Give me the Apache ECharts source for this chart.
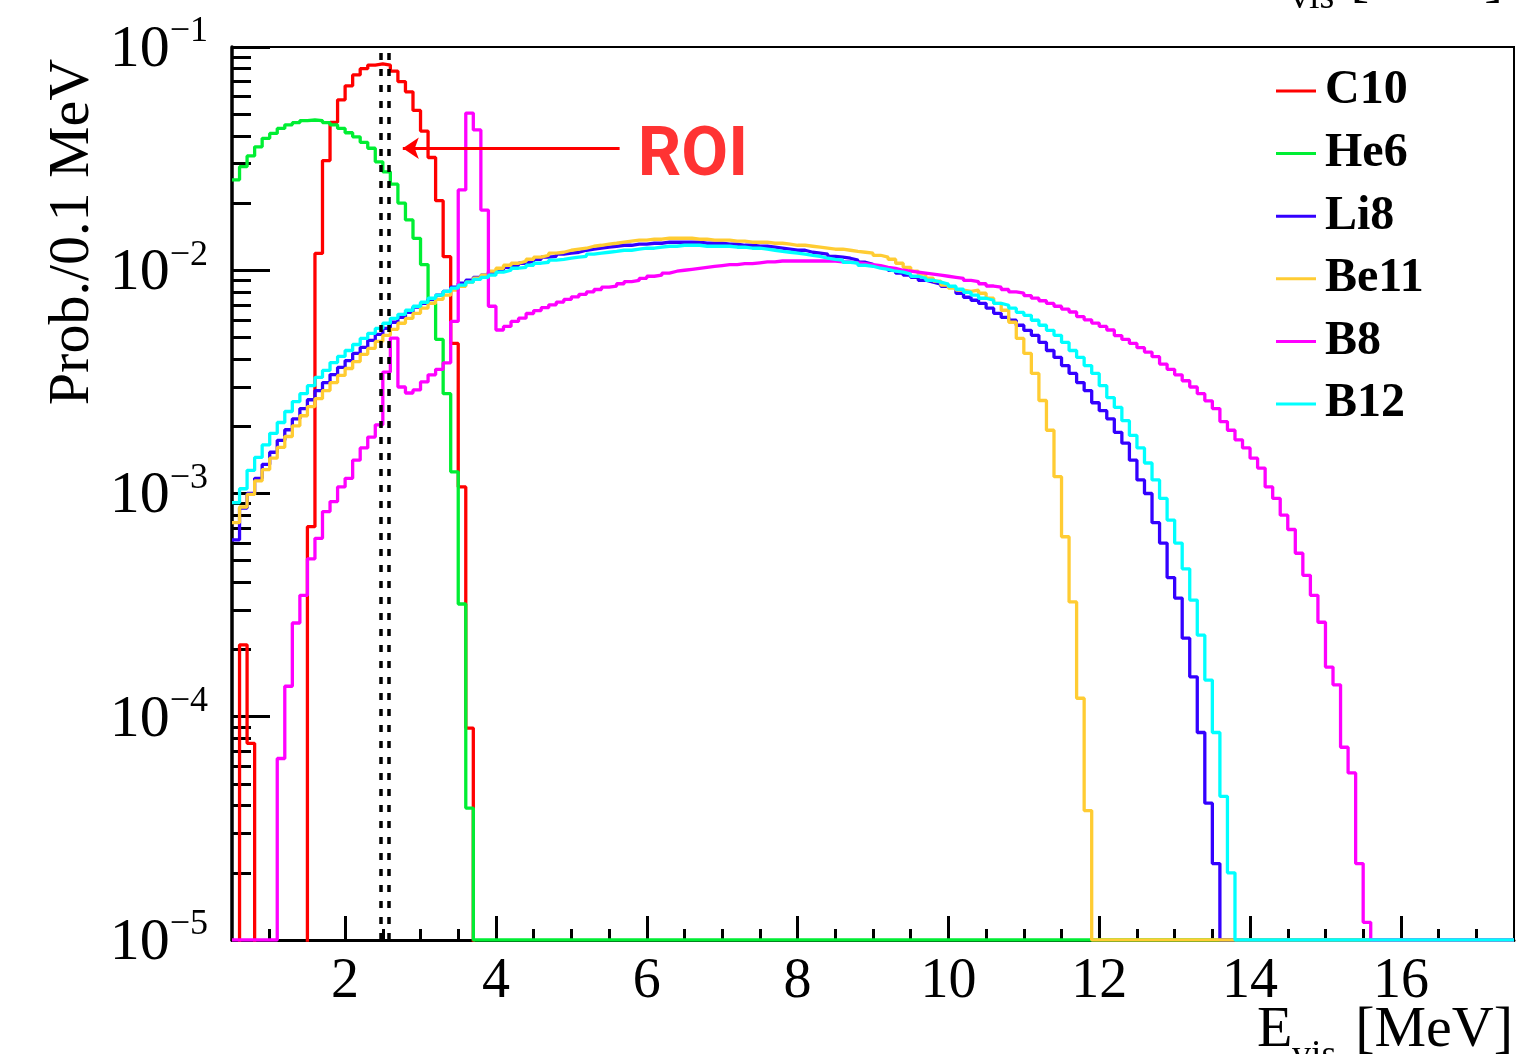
<!DOCTYPE html>
<html>
<head>
<meta charset="utf-8">
<script src="https://cdn.jsdelivr.net/npm/echarts@6.0.0/dist/echarts.min.js"></script>
<style>
html,body{margin:0;padding:0;background:#fff;}
#chart{width:1533px;height:1054px;}
</style>
</head>
<body>
<div id="chart"></div>
<script>
// ---------------- data (bin width 0.1 MeV, value = content of bin starting at E) ----------------
const E_MIN = 0.5, E_MAX = 17.5, BIN = 0.1;
const seriesNames = ['C10', 'He6', 'Li8', 'Be11', 'B8', 'B12'];
const seriesColors = ['#ff0000', '#00ee33', '#3300ff', '#ffcc33', '#ff00ff', '#00ffff'];

const c10Start = 0.5;
const c10 = [
  0, 2.1e-4, 7.6e-5, 0, 0, 0, 0, 0, 0, 0,
  7.1e-4, 0.0119, 0.031, 0.046, 0.058, 0.067, 0.075, 0.080, 0.083, 0.084,
  0.083, 0.078, 0.070, 0.063, 0.052, 0.042, 0.032, 0.0205, 0.0115, 0.0047,
  0.00107, 8.9e-5
];

const he6Start = 0.5;
const he6 = [
  0.0254, 0.0291, 0.0325, 0.0357, 0.0390, 0.0410, 0.0432, 0.0448, 0.0458, 0.0468,
  0.0471, 0.0468, 0.0458, 0.0448, 0.0432, 0.0413, 0.0396, 0.0374, 0.0352, 0.0306,
  0.0276, 0.0243, 0.0200, 0.0168, 0.0139, 0.0106, 0.0071, 0.0049, 0.0028, 0.00125,
  3.2e-4, 3.9e-5
];

const li8Start = 0.5;
const li8 = [
  0.00062, 0.00086, 0.00100, 0.00117, 0.00135, 0.00153, 0.00173, 0.00193, 0.00216, 0.00240,
  0.00263, 0.00289, 0.00314, 0.00341, 0.00367, 0.00394, 0.00424, 0.00451, 0.00485, 0.00516,
  0.00549, 0.00585, 0.00615, 0.00648, 0.00683, 0.00711, 0.00741, 0.00773, 0.00805, 0.00839,
  0.00875, 0.00902, 0.00930, 0.00950, 0.00980, 0.01000, 0.01031, 0.01053, 0.01075, 0.01097,
  0.01120, 0.01144, 0.01155, 0.01180, 0.01192, 0.01204, 0.01229, 0.01242, 0.01255, 0.01268,
  0.01281, 0.01294, 0.01294, 0.01308, 0.01308, 0.01321, 0.01321, 0.01335, 0.01335, 0.01335,
  0.01335, 0.01335, 0.01321, 0.01321, 0.01321, 0.01308, 0.01308, 0.01294, 0.01294, 0.01281,
  0.01281, 0.01268, 0.01255, 0.01242, 0.01229, 0.01229, 0.01204, 0.01192, 0.01180, 0.01155,
  0.01144, 0.01132, 0.01109, 0.01086, 0.01064, 0.01042, 0.01021, 0.01000, 0.00970, 0.00950,
  0.00930, 0.00902, 0.00884, 0.00866, 0.00848, 0.00831, 0.00789, 0.00757, 0.00734, 0.00711,
  0.00676, 0.00641, 0.00615, 0.00597, 0.00567, 0.00538, 0.00511, 0.00475, 0.00437, 0.00407,
  0.00374, 0.00345, 0.00314, 0.00289, 0.00255, 0.00235, 0.00216, 0.00188, 0.00168, 0.00141,
  0.00115, 0.00100, 0.00074, 0.00060, 0.00042, 0.00034, 0.000225, 0.000151, 0.000085, 0.000041,
  0.000022
];

const be11Start = 0.5;
const be11 = [
  0.00074, 0.00087, 0.00099, 0.00114, 0.00128, 0.00144, 0.00161, 0.00180, 0.00201, 0.00223,
  0.00245, 0.00266, 0.00289, 0.00314, 0.00338, 0.00363, 0.00390, 0.00420, 0.00447, 0.00480,
  0.00511, 0.00544, 0.00579, 0.00609, 0.00641, 0.00676, 0.00711, 0.00741, 0.00773, 0.00814,
  0.00848, 0.00884, 0.00921, 0.00950, 0.00990, 0.01021, 0.01053, 0.01075, 0.01097, 0.01120,
  0.01144, 0.01167, 0.01192, 0.01204, 0.01229, 0.01242, 0.01255, 0.01281, 0.01294, 0.01308,
  0.01321, 0.01335, 0.01349, 0.01363, 0.01363, 0.01377, 0.01377, 0.01391, 0.01391, 0.01391,
  0.01391, 0.01377, 0.01377, 0.01363, 0.01363, 0.01363, 0.01349, 0.01349, 0.01335, 0.01335,
  0.01335, 0.01321, 0.01321, 0.01308, 0.01294, 0.01294, 0.01281, 0.01268, 0.01255, 0.01242,
  0.01242, 0.01229, 0.01216, 0.01204, 0.01192, 0.01167, 0.01144, 0.01120, 0.01075, 0.01031,
  0.00990, 0.00960, 0.00921, 0.00893, 0.00857, 0.00831, 0.00814, 0.00805, 0.00814, 0.00789,
  0.00749, 0.00711, 0.00662, 0.00585, 0.00495, 0.00424, 0.00345, 0.00261, 0.00192, 0.00119,
  0.00064, 0.000327, 0.000121, 0.000038
];

const b8Start = 1.1;
const b8 = [
  6.5e-5, 1.37e-4, 2.63e-4, 3.5e-4, 5.1e-4, 6.3e-4, 8.3e-4, 9.2e-4, 0.00107, 0.00117,
  0.00141, 0.00160, 0.00179, 0.00203, 0.00350, 0.00497, 0.00300, 0.00282, 0.00291, 0.00316,
  0.00340, 0.00360, 0.00385, 0.00590, 0.0229, 0.0506, 0.0425, 0.0186, 0.0069, 0.0054,
  0.0056, 0.0059, 0.0061, 0.0064, 0.0066, 0.0068, 0.0070, 0.0072, 0.0074, 0.0076,
  0.0078, 0.0080, 0.0082, 0.0084, 0.0085, 0.0087, 0.0089, 0.0090, 0.0092, 0.0094,
  0.0095, 0.0097, 0.0099, 0.0100, 0.0101, 0.0102, 0.0103, 0.0104, 0.0105, 0.0106,
  0.0106, 0.0107, 0.0107, 0.0108, 0.0109, 0.0109, 0.0110, 0.0110, 0.0110, 0.0110,
  0.0110, 0.0110, 0.0110, 0.0110, 0.0109, 0.0109, 0.0108, 0.0107, 0.0106, 0.0105,
  0.0103, 0.0102, 0.0100, 0.0099, 0.0098, 0.0097, 0.0096, 0.0095, 0.0094, 0.0093,
  0.0092, 0.0090, 0.0089, 0.0087, 0.0085, 0.0084, 0.0082, 0.0080, 0.0079, 0.0077,
  0.0075, 0.0073, 0.0071, 0.0069, 0.0067, 0.0065, 0.0062, 0.0060, 0.0058, 0.0056,
  0.0054, 0.0051, 0.0049, 0.0047, 0.0045, 0.0043, 0.0041, 0.0038, 0.0036, 0.0034,
  0.0032, 0.0030, 0.0028, 0.0026, 0.0024, 0.0021, 0.00192, 0.00174, 0.00160, 0.00144,
  0.00130, 0.00107, 0.00095, 0.00080, 0.00069, 0.00054, 0.00043, 0.00035, 0.000265, 0.000167,
  0.000139, 0.000073, 0.000056, 0.000022, 0.000012
];

const b12Start = 0.5;
const b12 = [
  0.00091, 0.00105, 0.00127, 0.00145, 0.00165, 0.00186, 0.00208, 0.00233, 0.00258, 0.00280,
  0.00304, 0.00331, 0.00356, 0.00386, 0.00411, 0.00437, 0.00465, 0.00495, 0.00522, 0.00549,
  0.00579, 0.00609, 0.00635, 0.00662, 0.00690, 0.00719, 0.00749, 0.00773, 0.00805, 0.00831,
  0.00857, 0.00884, 0.00911, 0.00930, 0.00950, 0.00980, 0.01000, 0.01021, 0.01031, 0.01053,
  0.01075, 0.01086, 0.01109, 0.01120, 0.01132, 0.01144, 0.01155, 0.01180, 0.01192, 0.01204,
  0.01216, 0.01229, 0.01229, 0.01242, 0.01255, 0.01255, 0.01268, 0.01281, 0.01281, 0.01294,
  0.01294, 0.01294, 0.01281, 0.01281, 0.01281, 0.01281, 0.01268, 0.01268, 0.01255, 0.01255,
  0.01242, 0.01229, 0.01216, 0.01204, 0.01192, 0.01180, 0.01167, 0.01155, 0.01132, 0.01120,
  0.01109, 0.01086, 0.01075, 0.01053, 0.01042, 0.01021, 0.01010, 0.00990, 0.00980, 0.00960,
  0.00940, 0.00921, 0.00902, 0.00884, 0.00866, 0.00848, 0.00822, 0.00797, 0.00773, 0.00749,
  0.00734, 0.00711, 0.00697, 0.00676, 0.00648, 0.00628, 0.00597, 0.00567, 0.00538, 0.00511,
  0.00475, 0.00437, 0.00407, 0.00374, 0.00345, 0.00304, 0.00269, 0.00243, 0.00212, 0.00182,
  0.00160, 0.00137, 0.00115, 0.00095, 0.00076, 0.00060, 0.00046, 0.000333, 0.000232, 0.000146,
  0.000085, 0.000044, 0.000020
];

// axis ticks / labels
const xMajorTicks = [2, 4, 6, 8, 10, 12, 14, 16];
const xMinorTicks = [1, 1.5, 2.5, 3, 3.5, 4.5, 5, 5.5, 6.5, 7, 7.5, 8.5, 9, 9.5, 10.5, 11, 11.5,
                     12.5, 13, 13.5, 14.5, 15, 15.5, 16.5, 17];
const yDecades = [1e-5, 1e-4, 1e-3, 1e-2, 1e-1];
const yMinorTicks = [2e-5, 3e-5, 4e-5, 5e-5, 6e-5, 7e-5, 8e-5, 9e-5,
                     2e-4, 3e-4, 4e-4, 5e-4, 6e-4, 7e-4, 8e-4, 9e-4,
                     2e-3, 3e-3, 4e-3, 5e-3, 6e-3, 7e-3, 8e-3, 9e-3,
                     0.02, 0.03, 0.04, 0.05, 0.06, 0.07, 0.08, 0.09];

// ROI annotation
const roiEdges = [2.47, 2.575];
const roiArrowFrom = [5.64, 0.0352];
const roiArrowTo = [2.765, 0.0352];
const roiTextAt = [5.88, 0.0318];
const roiText = 'ROI';

// ---------------- build ----------------
const Y_MIN = 1e-5, Y_MAX = 0.1;
function histPoints(start, vals, floorVal) {
  const pts = [];
  const i0 = Math.round((start - E_MIN) / BIN);
  if (i0 > 0) pts.push([E_MIN, floorVal]);
  vals.forEach(function (v, k) {
    pts.push([+(E_MIN + (i0 + k) * BIN).toFixed(2), v > 0 ? v : floorVal]);
  });
  const eEnd = +(E_MIN + (i0 + vals.length) * BIN).toFixed(2);
  if (eEnd < E_MAX) pts.push([eEnd, floorVal]);
  pts.push([E_MAX, pts[pts.length - 1][1]]);
  return pts;
}

const curves = [
  { start: c10Start, vals: c10, floor: 1e-6 },
  { start: he6Start, vals: he6, floor: Y_MIN },
  { start: li8Start, vals: li8, floor: Y_MIN },
  { start: be11Start, vals: be11, floor: Y_MIN },
  { start: b8Start, vals: b8, floor: Y_MIN },
  { start: b12Start, vals: b12, floor: Y_MIN }
];

const SERIF = '"Liberation Serif", "DejaVu Serif", serif';

const series = curves.map(function (c, k) {
  return {
    name: seriesNames[k],
    type: 'line',
    step: 'end',
    data: histPoints(c.start, c.vals, c.floor),
    symbol: 'none',
    showSymbol: false,
    clip: true,
    silent: true,
    xAxisIndex: 0,
    yAxisIndex: 0,
    itemStyle: { color: seriesColors[k] },
    lineStyle: { color: seriesColors[k], width: 3.3 }
  };
});

// dashed ROI lines
series.push({
  type: 'line', data: [], xAxisIndex: 0, yAxisIndex: 0, z: 10, silent: true,
  markLine: {
    silent: true, animation: false, symbol: ['none', 'none'],
    label: { show: false },
    lineStyle: { color: '#000', width: 3.5, type: [7, 9] },
    emphasis: { disabled: true },
    data: roiEdges.map(function (e) { return { xAxis: e }; })
  }
});
// arrow
series.push({
  type: 'line', data: [], xAxisIndex: 0, yAxisIndex: 0, z: 10, silent: true,
  markLine: {
    silent: true, animation: false,
    label: { show: false },
    lineStyle: { color: '#ff0000', width: 3, type: 'solid' },
    emphasis: { disabled: true },
    data: [[
      { coord: roiArrowFrom, symbol: 'none' },
      { coord: roiArrowTo, symbol: 'arrow', symbolSize: 16 }
    ]]
  }
});
// ROI text
series.push({
  type: 'scatter', data: [roiTextAt], xAxisIndex: 0, yAxisIndex: 0, z: 10, silent: true,
  symbolSize: 0,
  label: {
    show: true, position: 'right', distance: 0, formatter: roiText,
    color: '#ff0000', fontFamily: 'Roboto, "Liberation Sans", sans-serif',
    fontWeight: 'bold', fontSize: 68
  }
});

const option = {
  animation: false,
  backgroundColor: '#fff',
  grid: {
    left: 232, right: 19, top: 47, bottom: 114,
    show: true, borderColor: '#000', borderWidth: 2,
    containLabel: false, outerBoundsMode: 'none'
  },
  legend: {
    data: seriesNames,
    orient: 'vertical',
    left: 1276, top: 66, padding: 0,
    itemWidth: 40, itemHeight: 3, itemGap: 12.6,
    icon: 'rect',
    selectedMode: false,
    textStyle: {
      fontFamily: SERIF, fontWeight: 'bold', fontSize: 48, color: '#000',
      lineHeight: 50, padding: [0, 0, 0, 4]
    }
  },
  xAxis: [
    {
      type: 'value', min: E_MIN, max: E_MAX, position: 'bottom',
      axisLine: { show: true, onZero: false, lineStyle: { color: '#000', width: 3 } },
      axisTick: { show: true, inside: true, length: 24, customValues: xMajorTicks,
                  lineStyle: { color: '#000', width: 3 } },
      axisLabel: { show: true, customValues: xMajorTicks, fontFamily: SERIF, fontSize: 56,
                   color: '#000', margin: 14 },
      splitLine: { show: false }
    },
    {
      type: 'value', min: E_MIN, max: E_MAX, position: 'bottom',
      axisLine: { show: false, onZero: false },
      axisTick: { show: true, inside: true, length: 11, customValues: xMinorTicks,
                  lineStyle: { color: '#000', width: 3 } },
      axisLabel: { show: false },
      splitLine: { show: false }
    }
  ],
  yAxis: [
    {
      type: 'log', logBase: 10, min: Y_MIN, max: Y_MAX, position: 'left',
      axisLine: { show: true, onZero: false, lineStyle: { color: '#000', width: 3.5 } },
      axisTick: { show: true, inside: true, length: 38, customValues: yDecades,
                  lineStyle: { color: '#000', width: 3 } },
      axisLabel: {
        show: true, customValues: yDecades, margin: 24,
        formatter: function (v) {
          const e = Math.round(Math.log10(v));
          return '{b|10}{s|\u2212' + Math.abs(e) + '}';
        },
        rich: {
          b: { fontFamily: SERIF, fontSize: 60, color: '#000', lineHeight: 66, verticalAlign: 'bottom' },
          s: { fontFamily: SERIF, fontSize: 36, color: '#000', verticalAlign: 'top' }
        }
      },
      splitLine: { show: false }
    },
    {
      type: 'log', logBase: 10, min: Y_MIN, max: Y_MAX, position: 'left',
      axisLine: { show: false, onZero: false },
      axisTick: { show: true, inside: true, length: 19, customValues: yMinorTicks,
                  lineStyle: { color: '#000', width: 3 } },
      axisLabel: { show: false },
      splitLine: { show: false }
    }
  ],
  graphic: [
    { type: 'text', x: 73, y: 232, rotation: Math.PI / 2, silent: true,
      style: { text: 'Prob./0.1 MeV', fontFamily: SERIF, fontSize: 58, fill: '#000',
               align: 'center', verticalAlign: 'middle' } },
    { type: 'text', x: 1257, y: 1031, silent: true,
      style: { text: 'E', fontFamily: SERIF, fontSize: 58, fill: '#000', align: 'left', verticalAlign: 'middle' } },
    { type: 'text', x: 1292, y: 1056, silent: true,
      style: { text: 'vis', fontFamily: SERIF, fontSize: 38, fill: '#000', align: 'left', verticalAlign: 'middle' } },
    { type: 'text', x: 1513, y: 1031, silent: true,
      style: { text: '[MeV]', fontFamily: SERIF, fontSize: 58, fill: '#000', align: 'right', verticalAlign: 'middle' } },
    { type: 'text', x: 1255, y: -20, silent: true,
      style: { text: 'E', fontFamily: SERIF, fontSize: 56, fill: '#000', align: 'left', verticalAlign: 'middle' } },
    { type: 'text', x: 1290, y: -2, silent: true,
      style: { text: 'vis', fontFamily: SERIF, fontSize: 38, fill: '#000', align: 'left', verticalAlign: 'middle' } },
    { type: 'text', x: 1503, y: -20, silent: true,
      style: { text: '[MeV]', fontFamily: SERIF, fontSize: 56, fill: '#000', align: 'right', verticalAlign: 'middle' } }
  ],
  series: series
};

const chart = echarts.init(document.getElementById('chart'), null, { renderer: 'canvas' });
chart.setOption(option);
</script>
</body>
</html>
